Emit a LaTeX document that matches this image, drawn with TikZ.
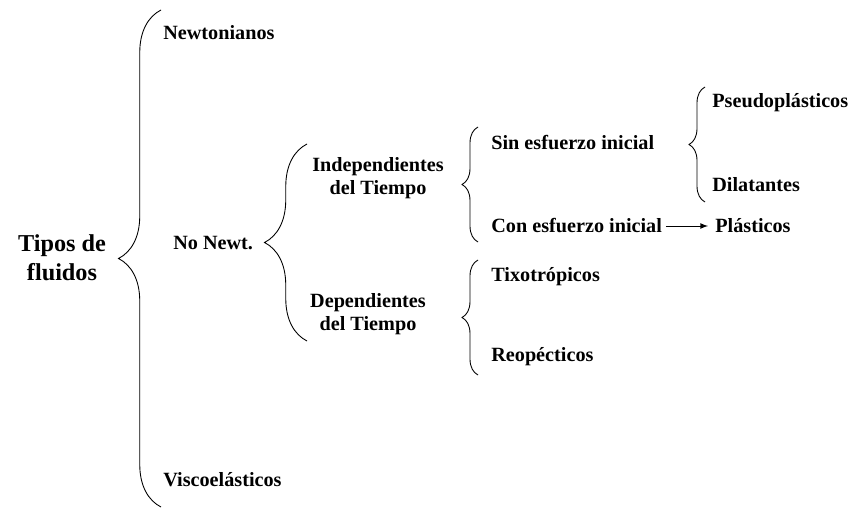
\documentclass[tikz,border=0pt]{standalone}
\usepackage{fontspec}
\setmainfont{Liberation Serif}[BoldFont={Liberation Serif Bold}]
\usetikzlibrary{decorations.pathreplacing,positioning}

\begin{document}
\begin{tikzpicture}[>=latex,x=0.02cm,y=-0.02cm,
  every node/.style={font=\fontsize{11.5}{13.2}\selectfont\bfseries,inner sep=0pt},
  llave/.style={decorate,line width=0.5pt,decoration={brace,amplitude=#1}},
  llave/.default=0.85cm]
\useasboundingbox (0,0) rectangle (850,510);

\node[align=center,font=\fontsize{13.8}{16.6}\selectfont\bfseries] (tipos) at (62,258) {Tipos de\\fluidos};
\node[anchor=west] (newt) at (163,33) {Newtonianos};
\node[anchor=west] (nonewt) at (173,243) {No Newt.};
\node[anchor=west] (visco) at (163,480) {Viscoelásticos};

\node[align=center] (indep) at (378,178) {Independientes\\del Tiempo};
\node[align=center] (dep) at (368,314) {Dependientes\\del Tiempo};

\node[anchor=west] (sin) at (491,143) {Sin esfuerzo inicial};
\node[anchor=west] (con) at (491,226) {Con esfuerzo inicial};
\node[anchor=west] (tixo) at (491,277) {Tixotrópicos};
\node[anchor=west] (reo) at (491,357) {Reopécticos};

\node[anchor=west] (pseudo) at (712,103) {Pseudoplásticos};
\node[anchor=west] (dila) at (712,185) {Dilatantes};
\node[anchor=west] (plast) at (715,226) {Plásticos};

% llaves
\draw[llave] (161,507) -- (161,10);
\draw[llave] (307,341) -- (307,144);
\draw[llave=0.32cm] (478,242) -- (478,127);
\draw[llave=0.32cm] (478,375) -- (478,260);
\draw[llave=0.32cm] (705,202) -- (705,87);

\draw[->,line width=0.5pt,shorten <=2pt,shorten >=4pt] (con) -- (plast);
\end{tikzpicture}
\end{document}
